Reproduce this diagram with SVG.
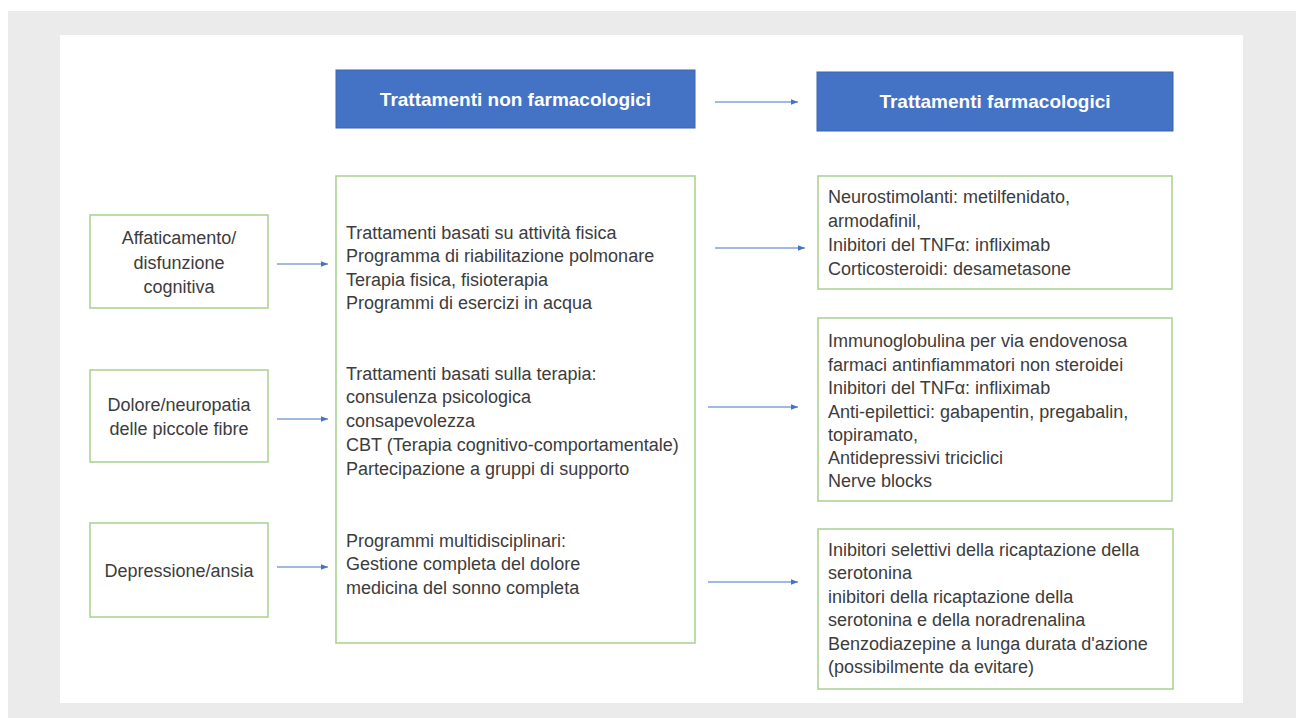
<svg xmlns="http://www.w3.org/2000/svg" width="1296" height="718" viewBox="0 0 1296 718">
<defs>
<marker id="ah" viewBox="0 0 10 10" refX="10" refY="5" markerWidth="7" markerHeight="7" markerUnits="userSpaceOnUse" orient="auto">
<path d="M0,1 L10,5 L0,9 z" fill="#4472c4"/>
</marker>
<style>
.hdr{fill:#4472c4;stroke:#3a64b0;stroke-width:1}
.hdrt{font-family:"Liberation Sans",Arial,sans-serif;font-weight:bold;font-size:19px;fill:#ffffff;text-anchor:middle}
.box{fill:#ffffff;stroke:#a9d08e;stroke-width:1.5}
.t{font-family:"Liberation Sans",Arial,sans-serif;font-size:18px;fill:#3c3c3c}
.c{text-anchor:middle}
.conn line{stroke:#4472c4;stroke-width:1.2;marker-end:url(#ah)}
</style>
</defs>
<rect x="0" y="0" width="1296" height="718" fill="#ffffff"/>
<rect x="8" y="11" width="1288" height="707" fill="#ebebeb"/>
<rect x="60" y="35" width="1183" height="668" fill="#ffffff"/>

<g id="hdr-nonfarm">
<rect class="hdr" x="336" y="70" width="359" height="58"/>
<text class="hdrt" x="515.5" y="106">Trattamenti non farmacologici</text>
</g>
<g id="hdr-farm">
<rect class="hdr" x="817" y="72" width="356" height="59"/>
<text class="hdrt" x="995" y="108">Trattamenti farmacologici</text>
</g>

<g id="sym-fatigue">
<rect class="box" x="90" y="215" width="178" height="93"/>
<text class="t c" x="179" y="244">Affaticamento/</text>
<text class="t c" x="179" y="269">disfunzione</text>
<text class="t c" x="179" y="293">cognitiva</text>
</g>
<g id="sym-pain">
<rect class="box" x="90" y="370" width="178" height="92"/>
<text class="t c" x="179" y="411">Dolore/neuropatia</text>
<text class="t c" x="179" y="435">delle piccole fibre</text>
</g>
<g id="sym-depression">
<rect class="box" x="90" y="523" width="178" height="94"/>
<text class="t c" x="179" y="577">Depressione/ansia</text>
</g>

<g id="nonfarm">
<rect class="box" x="336" y="176" width="359" height="467"/>
<text class="t" x="346" y="239">Trattamenti basati su attività fisica</text>
<text class="t" x="346" y="262">Programma di riabilitazione polmonare</text>
<text class="t" x="346" y="286">Terapia fisica, fisioterapia</text>
<text class="t" x="346" y="309">Programmi di esercizi in acqua</text>
<text class="t" x="346" y="380">Trattamenti basati sulla terapia:</text>
<text class="t" x="346" y="403">consulenza psicologica</text>
<text class="t" x="346" y="427">consapevolezza</text>
<text class="t" x="346" y="451">CBT (Terapia cognitivo-comportamentale)</text>
<text class="t" x="346" y="475">Partecipazione a gruppi di supporto</text>
<text class="t" x="346" y="547">Programmi multidisciplinari:</text>
<text class="t" x="346" y="570">Gestione completa del dolore</text>
<text class="t" x="346" y="594">medicina del sonno completa</text>
</g>

<g id="farm-fatigue">
<rect class="box" x="818" y="176" width="354" height="113"/>
<text class="t" x="828" y="203">Neurostimolanti: metilfenidato,</text>
<text class="t" x="828" y="227">armodafinil,</text>
<text class="t" x="828" y="251">Inibitori del TNFα: infliximab</text>
<text class="t" x="828" y="275">Corticosteroidi: desametasone</text>
</g>
<g id="farm-pain">
<rect class="box" x="818" y="318" width="354" height="183"/>
<text class="t" x="828" y="347">Immunoglobulina per via endovenosa</text>
<text class="t" x="828" y="371">farmaci antinfiammatori non steroidei</text>
<text class="t" x="828" y="394">Inibitori del TNFα: infliximab</text>
<text class="t" x="828" y="418">Anti-epilettici: gabapentin, pregabalin,</text>
<text class="t" x="828" y="441">topiramato,</text>
<text class="t" x="828" y="464">Antidepressivi triciclici</text>
<text class="t" x="828" y="487">Nerve blocks</text>
</g>
<g id="farm-depression">
<rect class="box" x="818" y="529" width="355" height="160"/>
<text class="t" x="828" y="556">Inibitori selettivi della ricaptazione della</text>
<text class="t" x="828" y="579">serotonina</text>
<text class="t" x="828" y="603">inibitori della ricaptazione della</text>
<text class="t" x="828" y="626">serotonina e della noradrenalina</text>
<text class="t" x="828" y="650">Benzodiazepine a lunga durata d'azione</text>
<text class="t" x="828" y="673">(possibilmente da evitare)</text>
</g>

<g id="connectors" class="conn">
<line x1="715" y1="102" x2="798" y2="102"/>
<line x1="277" y1="264" x2="328" y2="264"/>
<line x1="277" y1="419" x2="328" y2="419"/>
<line x1="277" y1="567" x2="328" y2="567"/>
<line x1="715" y1="248" x2="805" y2="248"/>
<line x1="708" y1="407" x2="798" y2="407"/>
<line x1="708" y1="582" x2="798" y2="582"/>
</g>
</svg>
